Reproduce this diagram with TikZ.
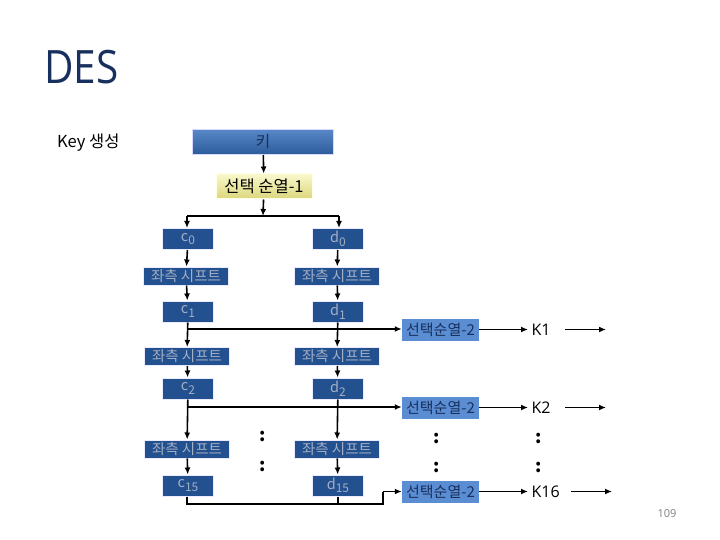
\documentclass[tikz,border=0pt]{standalone}
\usepackage{fontspec}
\setmainfont{Noto Sans CJK KR}
\newfontfamily\titlefont{Open Sans}
\usetikzlibrary{arrows.meta}
\definecolor{boxblue}{HTML}{23508E}
\definecolor{boxtext}{HTML}{A3AFC4}
\definecolor{keytop}{HTML}{5787C6}
\definecolor{keybot}{HTML}{2C5C9C}
\definecolor{pmtop}{HTML}{F8F8CC}
\definecolor{pmbot}{HTML}{DCD67C}
\definecolor{pmblue}{HTML}{5A8DD2}
\definecolor{navy}{HTML}{18305E}
\newcommand{\idx}[1]{\raisebox{-0.45ex}{\fontsize{12}{12}\selectfont #1}}
\tikzset{%
	darkbox/.style = { fill=boxblue, draw=blue!8, line width=1pt, text=boxtext, inner sep=0pt, font=\fontsize{14.5}{14.5}\selectfont },
	regbox/.style = { darkbox, minimum width=51pt, minimum height=21pt },
	shiftbox/.style = { darkbox, minimum width=85pt, minimum height=18pt },
	keybox/.style = { top color=keytop, bottom color=keybot, draw=blue!15, line width=1pt, minimum width=141pt, minimum height=25pt, inner sep=0pt, text=navy, font=\fontsize{16}{16}\selectfont },
	permone/.style = { top color=pmtop, bottom color=pmbot, draw=yellow!10, line width=1pt, minimum width=96pt, minimum height=25pt, inner sep=0pt, font=\fontsize{16.5}{16.5}\selectfont },
	permtwo/.style = { fill=pmblue, minimum width=77pt, minimum height=22pt, inner sep=0pt, text=navy, font=\fontsize{15}{15}\selectfont },
	subkey/.style = { font=\titlefont\fontsize{16}{16}\selectfont, anchor=west },
	vdots/.style = { font=\bfseries\fontsize{18}{18}\selectfont, inner sep=0pt },
	arr/.style = { -{Latex[length=7pt,width=6pt]}, line width=1.6pt },
	wire/.style = { line width=1.6pt }
}
\begin{document}
\begin{tikzpicture}[x=1pt, y=-1pt]
	\useasboundingbox (0,0) rectangle (720,540);
	% 제목
	\node[font=\titlefont\fontsize{46}{46}\selectfont, text=navy, anchor=base west, xscale=0.88, inner sep=0pt] (title) at (44,84) {DES};
	\node[font=\fontsize{16.5}{16.5}\selectfont, anchor=west, inner sep=0pt] (keygen) at (57,143) {Key 생성};
	\node[font=\titlefont\fontsize{11}{11}\selectfont, text=gray] (page) at (667,514) {109};

	% 키와 선택 순열-1
	\node[keybox] (key) at (263,142) {키};
	\node[permone] (perm1) at (264,186.5) {선택 순열-1};
	\coordinate (split) at (263,216);
	\coordinate (splitl) at (187,216);
	\coordinate (splitr) at (339,216);
	\draw[arr] (key) -- (perm1);
	\draw[arr] (perm1) -- (split);
	\draw[wire] (splitl) -- (splitr);

	% c, d 열
	\node[regbox] (c0) at (188,239) {c\idx{0}};
	\node[regbox] (d0) at (338,239) {d\idx{0}};
	\node[shiftbox] (sl1) at (186,276) {좌측 시프트};
	\node[shiftbox] (sr1) at (337,276) {좌측 시프트};
	\node[regbox] (c1) at (188,311.5) {c\idx{1}};
	\node[regbox] (d1) at (338,311.5) {d\idx{1}};
	\node[shiftbox] (sl2) at (187,356.5) {좌측 시프트};
	\node[shiftbox] (sr2) at (337,356.5) {좌측 시프트};
	\node[regbox] (c2) at (188,388.5) {c\idx{2}};
	\node[regbox] (d2) at (338,388.5) {d\idx{2}};
	\node[shiftbox] (sl3) at (187,449) {좌측 시프트};
	\node[shiftbox] (sr3) at (337,449) {좌측 시프트};
	\node[regbox] (c15) at (188,485.5) {c\idx{15}};
	\node[regbox] (d15) at (338,485.5) {d\idx{15}};

	\draw[arr] (splitl) -- (splitl |- c0.north);
	\draw[arr] (splitr) -- (splitr |- d0.north);
	\draw[arr] (c0) -- (sl1);
	\draw[arr] (d0) -- (sr1);
	\draw[arr] (sl1) -- (c1);
	\draw[arr] (sr1) -- (d1);
	\draw[arr] (c1) -- (sl2);
	\draw[arr] (d1) -- (sr2);
	\draw[arr] (sl2) -- (c2);
	\draw[arr] (sr2) -- (d2);
	\draw[arr] (c2) -- (sl3);
	\draw[arr] (d2) -- (sr3);
	\draw[arr] (sl3) -- (c15);
	\draw[arr] (sr3) -- (d15);

	% 선택순열-2 와 서브키
	\node[permtwo] (p2a) at (440.5,329.5) {선택순열-2};
	\node[permtwo] (p2b) at (440.5,407.5) {선택순열-2};
	\node[permtwo] (p2c) at (440.5,491.5) {선택순열-2};
	\node[subkey] (k1) at (528,329.5) {K1};
	\node[subkey] (k2) at (528,407.5) {K2};
	\node[subkey] (k16) at (528,491.5) {K16};
	\coordinate (o1) at (606,329.5);
	\coordinate (o2) at (606,407.5);
	\coordinate (o16) at (612,491.5);

	\coordinate (t1) at (187,329);
	\coordinate (t2) at (187,407);
	\draw[arr] (t1) -- (t1 -| p2a.west);
	\draw[arr] (t2) -- (t2 -| p2b.west);
	\coordinate (bl) at (187,504);
	\coordinate (br) at (383,504);
	\draw[wire] (c15.south -| bl) -- (bl) -- (br) -- (br |- p2c.west);
	\draw[wire] (d15.south) -- (d15.south |- bl);
	\draw[arr] (br |- p2c.west) -- (p2c.west);

	\draw[arr] (p2a) -- (k1);
	\draw[arr] (p2b) -- (k2);
	\draw[arr] (p2c) -- (k16);
	\draw[arr] (k1.east) ++(11,0) -- (o1);
	\draw[arr] (k2.east) ++(11,0) -- (o2);
	\draw[arr] (k16.east) ++(8,0) -- (o16);

	% 생략 표시
	\node[vdots] (dm1) at (263,436) {:};
	\node[vdots] (dm2) at (263,466) {:};
	\node[vdots] (dp1) at (437,438) {:};
	\node[vdots] (dp2) at (437,467) {:};
	\node[vdots] (dk1) at (539,438) {:};
	\node[vdots] (dk2) at (539,467) {:};
\end{tikzpicture}
\end{document}
